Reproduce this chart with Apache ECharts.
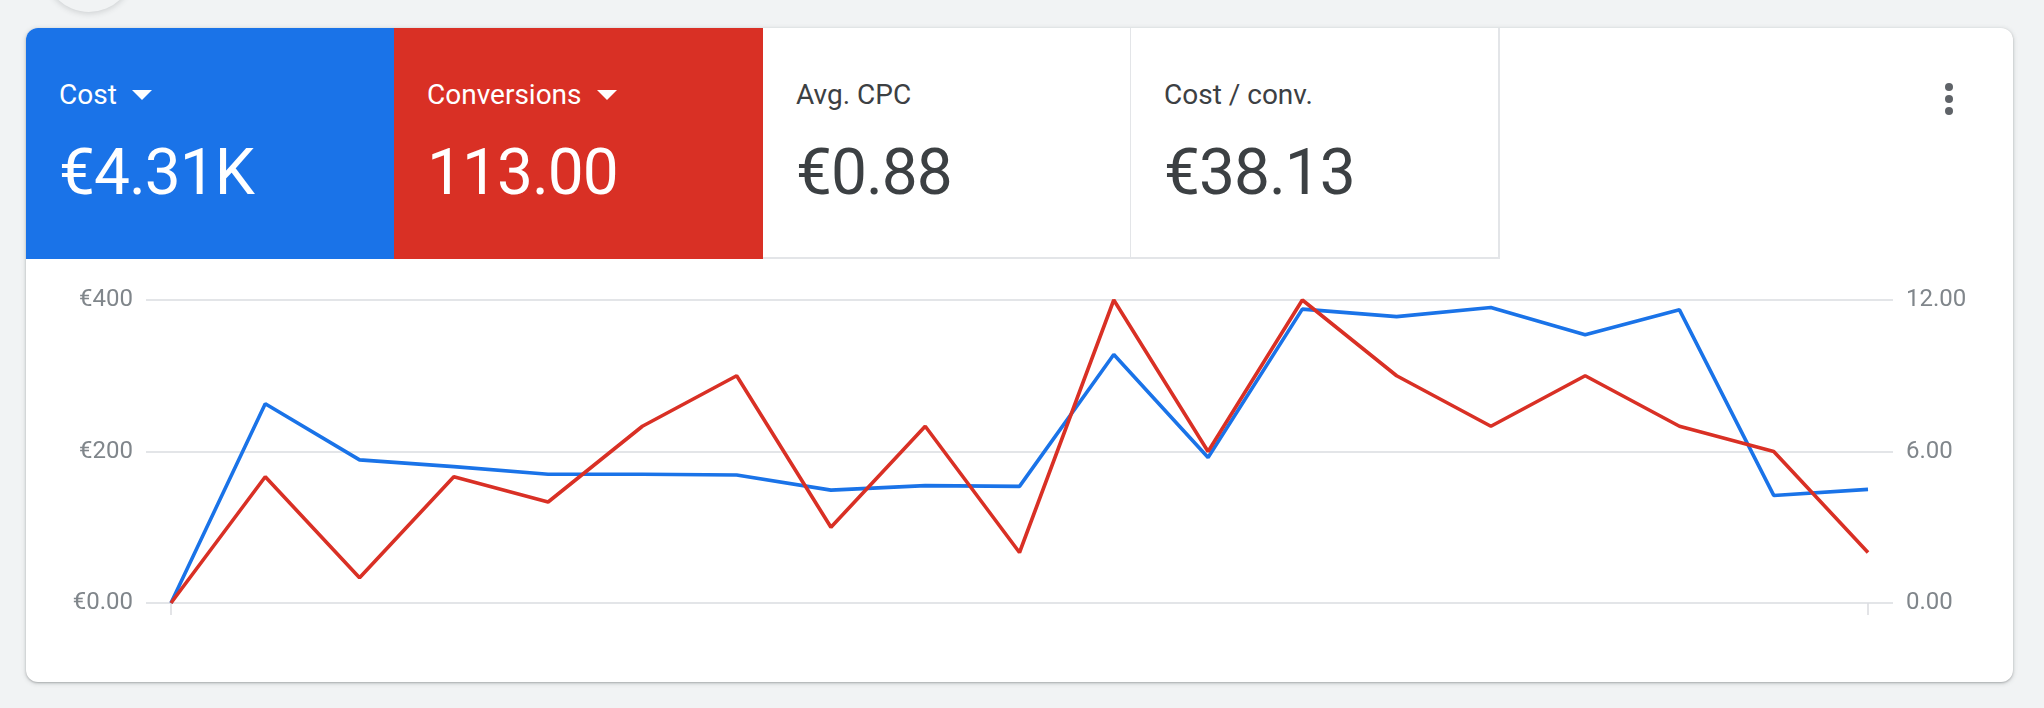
<!DOCTYPE html>
<html>
<head>
<meta charset="utf-8">
<script src="https://cdn.jsdelivr.net/npm/echarts@6/dist/echarts.min.js"></script>
<style>
  html, body { margin:0; padding:0; width:2044px; height:708px; background:#f1f3f4; overflow:hidden; font-family: Roboto, "Noto Sans", sans-serif; }
  #blob { position:absolute; left:44px; top:-78px; width:90px; height:90px; border-radius:50%; background:#f1f3f4; box-shadow:0 1px 6px rgba(60,64,67,0.22); }
  #card { position:absolute; left:26px; top:28px; width:1987px; height:654px; background:#fff; border-radius:12px; overflow:hidden;
          box-shadow:0 1px 2px rgba(60,64,67,0.30), 0 1px 4px 1px rgba(60,64,67,0.15); }
  .tile { position:absolute; top:0; height:231px; box-sizing:border-box; }
  .lab { position:absolute; left:33px; top:53px; font-size:28px; line-height:28px; white-space:nowrap; }
  .val { position:absolute; left:33px; top:113px; font-size:64px; line-height:64px; white-space:nowrap; letter-spacing:-1px; }
  .tri { display:inline-block; width:0; height:0; border-left:10px solid transparent; border-right:10px solid transparent; border-top:10px solid #fff; margin-left:15px; vertical-align:4px; }
  #chart { position:absolute; left:0; top:0; width:2044px; height:708px; }
  .dot { position:absolute; width:8px; height:8px; border-radius:50%; background:#5f6368; left:1945px; }
</style>
</head>
<body>
<div id="blob"></div>
<div id="card">
  <div class="tile" style="left:0;width:368px;background:#1a73e8;color:#fff;">
    <div class="lab">Cost<span class="tri"></span></div>
    <div class="val">€4.31K</div>
  </div>
  <div class="tile" style="left:368px;width:369px;background:#d93025;color:#fff;">
    <div class="lab">Conversions<span class="tri"></span></div>
    <div class="val">113.00</div>
  </div>
  <div class="tile" style="left:737px;width:368px;background:#fff;color:#3c4043;border-bottom:2px solid #e3e5e8;border-right:1px solid #e3e5e8;">
    <div class="lab">Avg. CPC</div>
    <div class="val">€0.88</div>
  </div>
  <div class="tile" style="left:1105px;width:369px;background:#fff;color:#3c4043;border-bottom:2px solid #e3e5e8;border-right:2px solid #e3e5e8;">
    <div class="lab">Cost / conv.</div>
    <div class="val">€38.13</div>
  </div>
</div>
<div class="dot" style="top:83px;"></div>
<div class="dot" style="top:95px;"></div>
<div class="dot" style="top:107px;"></div>
<div id="chart"></div>
<script>
// Data (19 daily points)
var days = ['1','2','3','4','5','6','7','8','9','10','11','12','13','14','15','16','17','18','19'];
var costValues = [0, 263, 189, 180, 170, 170, 169, 149, 155, 154, 328, 192, 388, 378, 390, 354, 387, 142, 150];
var conversionValues = [0, 5, 1, 5, 4, 7, 9, 3, 7, 2, 12, 6, 12, 9, 7, 9, 7, 6, 2];
var costTickLabels = ['€0.00', '€200', '€400'];
var convTickLabels = ['0.00', '6.00', '12.00'];

function pairs(arr) { return arr.map(function (v, i) { return [i, v]; }); }

var chart = echarts.init(document.getElementById('chart'), null, { renderer: 'canvas' });
var labelStyle = { color: '#80868b', fontSize: 24, fontFamily: 'Roboto' };
chart.setOption({
  animation: false,
  backgroundColor: 'transparent',
  grid: { left: 146, right: 151, top: 300, bottom: 105, containLabel: false },
  xAxis: {
    type: 'value',
    min: -0.265,
    max: days.length - 1 + 0.265,
    axisLine: { show: false },
    axisLabel: { show: false },
    splitLine: { show: false },
    axisTick: { show: true, customValues: [0, days.length - 1], length: 12, lineStyle: { color: '#dadce0', width: 1.5 } }
  },
  yAxis: [
    {
      type: 'value', min: 0, max: 400, interval: 200, position: 'left',
      axisLine: { show: false }, axisTick: { show: false },
      axisLabel: Object.assign({ margin: 13, formatter: function (v) { return costTickLabels[Math.round(v / 200)]; } }, labelStyle),
      splitLine: { show: true, lineStyle: { color: '#dadce0', width: 1.5 } }
    },
    {
      type: 'value', min: 0, max: 12, interval: 6, position: 'right',
      axisLine: { show: false }, axisTick: { show: false },
      axisLabel: Object.assign({ margin: 13, formatter: function (v) { return convTickLabels[Math.round(v / 6)]; } }, labelStyle),
      splitLine: { show: false }
    }
  ],
  series: [
    { name: 'Cost', type: 'line', yAxisIndex: 0, data: pairs(costValues), showSymbol: false, symbol: 'none',
      lineStyle: { color: '#1a73e8', width: 3.6 }, itemStyle: { color: '#1a73e8' } },
    { name: 'Conversions', type: 'line', yAxisIndex: 1, data: pairs(conversionValues), showSymbol: false, symbol: 'none',
      lineStyle: { color: '#d93025', width: 3.6 }, itemStyle: { color: '#d93025' } }
  ]
});
</script>
</body>
</html>
